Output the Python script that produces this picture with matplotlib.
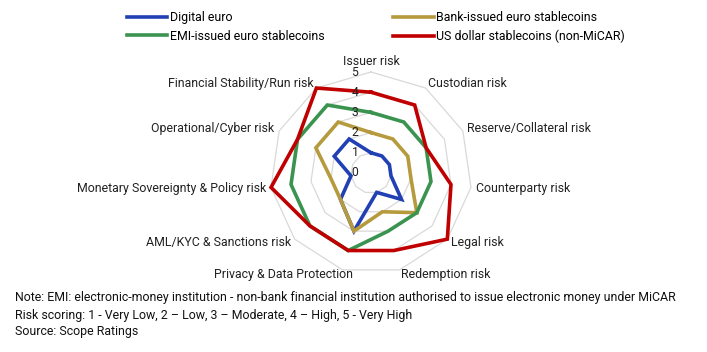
import numpy as np
import matplotlib.pyplot as plt
from matplotlib.transforms import offset_copy

plt.rcParams['font.family'] = ['Roboto', 'DejaVu Sans']

categories = ['Issuer risk', 'Custodian risk', 'Reserve/Collateral risk',
              'Counterparty risk', 'Legal risk', 'Redemption risk',
              'Privacy & Data Protection', 'AML/KYC & Sanctions risk',
              'Monetary Sovereignty & Policy risk', 'Operational/Cyber risk',
              'Financial Stability/Run risk']

digital_euro = [1, 1, 1, 1, 2, 1, 3, 2, 1, 2, 2]
bank_stable = [2, 2, 2, 2, 3, 2, 3, 2, 2, 3, 3]
emi_stable = [3, 3, 3, 3, 3, 3, 4, 4, 4, 4, 4]
usd_stable = [4, 4, 3, 4, 5, 4, 4, 4, 5, 4, 5]

series_names = ['Digital euro', 'EMI-issued euro stablecoins',
                'Bank-issued euro stablecoins', 'US dollar stablecoins (non-MiCAR)']
ticks = [0, 1, 2, 3, 4, 5]

notes = ['Note: EMI: electronic-money institution - non-bank financial institution authorised to issue electronic money under MiCAR',
         'Risk scoring: 1 - Very Low, 2 \u2013 Low, 3 \u2013 Moderate, 4 \u2013 High, 5 - Very High',
         'Source: Scope Ratings']

colors = {'Digital euro': '#2140B4',
          'Bank-issued euro stablecoins': '#B69A3E',
          'EMI-issued euro stablecoins': '#3B9350',
          'US dollar stablecoins (non-MiCAR)': '#C00000'}

W, H = 707, 352
fig = plt.figure(figsize=(W / 100, H / 100), dpi=100)

cx, cy, R = 371, 173, 101
ax = fig.add_axes([(cx - R) / W, (H - cy - R) / H, 2 * R / W, 2 * R / H],
                  projection='polar')
ax.set_theta_zero_location('N')
ax.set_theta_direction(-1)
ax.set_ylim(0, 5)
ax.set_xticks([])
ax.set_yticks([])
ax.grid(False)
ax.spines['polar'].set_visible(False)
ax.patch.set_alpha(0)

n = len(categories)
theta = np.linspace(0, 2 * np.pi, n, endpoint=False)
theta_c = np.append(theta, theta[0])

# polygon grid rings
for t in ticks[1:]:
    ax.plot(theta_c, [t] * (n + 1), color='#D9D9D9', lw=0.9, zorder=1, clip_on=False)

# tick labels on the vertical axis
tr = offset_copy(ax.transData, fig=fig, x=-16, y=0, units='dots')
for t in ticks:
    ax.text(0, t, str(t), transform=tr, ha='center', va='center', fontsize=8.7,
            color='#222222', zorder=5)

# category labels (Excel nudges the bottom-left one a bit)
nudge = {'Privacy & Data Protection': 12}
for ang, lab in zip(theta, categories):
    s = np.sin(ang)
    ha = 'left' if s > 0.1 else ('right' if s < -0.1 else 'center')
    va = 'bottom' if abs(s) <= 0.1 else 'center'
    r = 5.2 if va == 'bottom' else 5.25
    ttr = offset_copy(ax.transData, fig=fig, x=nudge.get(lab, 0), y=0, units='dots')
    ax.text(ang, r, lab, ha=ha, va=va, fontsize=8.9, color='#222222', transform=ttr)

data = {'Digital euro': digital_euro,
        'Bank-issued euro stablecoins': bank_stable,
        'EMI-issued euro stablecoins': emi_stable,
        'US dollar stablecoins (non-MiCAR)': usd_stable}

lines = {}
for name in ['Digital euro', 'Bank-issued euro stablecoins',
             'EMI-issued euro stablecoins', 'US dollar stablecoins (non-MiCAR)']:
    vals = data[name] + data[name][:1]
    ln, = ax.plot(theta_c, vals, color=colors[name], lw=2.6, zorder=3,
                  clip_on=False, solid_joinstyle='miter')
    lines[name] = ln

fig.legend([lines[k] for k in series_names], series_names, ncol=2,
           loc='upper left', bbox_to_anchor=(127 / W, 1 - 11 / H), frameon=False,
           fontsize=8.9, handlelength=3.25, handletextpad=0.2, columnspacing=5.6,
           labelspacing=0.45, borderpad=0, borderaxespad=0)

for i, line in enumerate(notes):
    fig.text(15 / W, 1 - (298 + 17 * i) / H, line, ha='left', va='center',
             fontsize=8.9, color='#111111')

fig.savefig('out.png', dpi=100)
